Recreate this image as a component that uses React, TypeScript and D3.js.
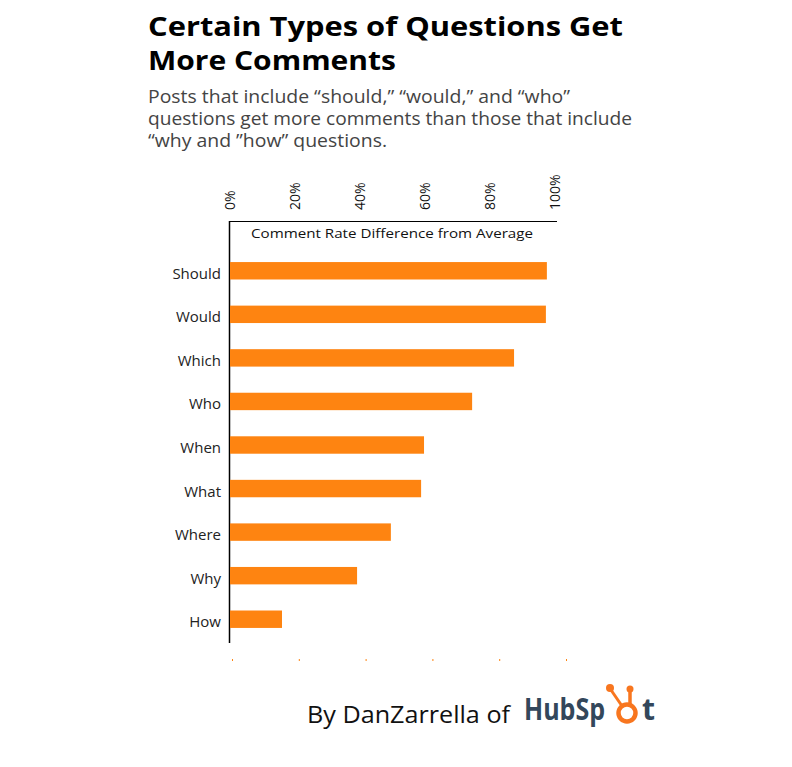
import React from "react";
import * as d3 from "d3";

const categories = ["Should", "Would", "Which", "Who", "When", "What", "Where", "Why", "How"];
const values = [97.5, 97.2, 87.4, 74.5, 59.7, 58.8, 49.5, 39.1, 16.0];
const tickValues = [0, 20, 40, 60, 80, 100];
const titleLines = ["Certain Types of Questions Get", "More Comments"];
const titleWidths = [475, 248];
const subtitleLines = [
  "Posts that include \u201cshould,\u201d \u201cwould,\u201d and \u201cwho\u201d",
  "questions get more comments than those that include",
  "\u201cwhy and \u201dhow\u201d questions.",
];
const subtitleWidths = [422, 484, 239];
const axisTitle = "Comment Rate Difference from Average";

export default function App() {
  const W = 792, H = 767;
  const x = d3.scaleLinear().domain([0, 100]).range([230, 555]);
  const y = d3.scaleBand().domain(categories).range([249, 641]).paddingInner(0.6).paddingOuter(0.3);
  const dotX = d3.scaleLinear().domain([0, 100]).range([232, 566]);
  const font = "'Open Sans', 'DejaVu Sans', sans-serif";
  return (
    <svg width={W} height={H} style={{ position: "absolute", left: 0, top: 0, background: "#fff" }} fontFamily={font}>
      {titleLines.map((t, i) => (
        <text key={t} x={148} y={36 + i * 34} fontSize={27} fontWeight={700} fill="#000"
          textLength={titleWidths[i]} lengthAdjust="spacingAndGlyphs">{t}</text>
      ))}
      {subtitleLines.map((t, i) => (
        <text key={t} x={148} y={103 + i * 22} fontSize={18} fill="#444"
          textLength={subtitleWidths[i]} lengthAdjust="spacingAndGlyphs">{t}</text>
      ))}
      {tickValues.map((v) => (
        <text key={v} transform={`translate(${x(v) + 5},210) rotate(-90)`} fontSize={14} fill="#111">{v}%</text>
      ))}
      <line x1={229.5} x2={557} y1={221.5} y2={221.5} stroke="#000" strokeWidth={1} />
      <line x1={229.5} x2={229.5} y1={221} y2={643} stroke="#000" strokeWidth={1.5} />
      <text x={392} y={238} textAnchor="middle" fontSize={13} fill="#111"
        textLength={282} lengthAdjust="spacingAndGlyphs">{axisTitle}</text>
      {categories.map((c, i) => (
        <g key={c}>
          <rect x={x(0)} y={y(c)!} width={x(values[i]) - x(0)} height={y.bandwidth()} fill="#fe8411" />
          <text x={221} y={y(c)! + y.bandwidth() / 2 + 8} textAnchor="end" fontSize={15} fill="#222">{c}</text>
        </g>
      ))}
      {tickValues.map((v) => (
        <rect key={"d" + v} x={dotX(v)} y={659} width={1} height={2} fill="#fe8411" />
      ))}
      <text x={307} y={723} fontSize={23} fill="#111" textLength={203} lengthAdjust="spacingAndGlyphs">By DanZarrella of</text>
      <text x={524} y={720} fontSize={30} fontWeight={700} fill="#33475b" textLength={81} lengthAdjust="spacingAndGlyphs">HubSp</text>
      <g stroke="#f8761f" fill="#f8761f">
        <line x1={630} y1={705} x2={630} y2={690} strokeWidth={3.5} />
        <line x1={622} y1={706} x2={611} y2={690} strokeWidth={3} />
        <circle cx={630} cy={689} r={3.5} stroke="none" />
        <circle cx={610} cy={688} r={4} stroke="none" />
        <circle cx={627} cy={713} r={8.5} fill="#fff" strokeWidth={4.5} />
      </g>
      <text x={642} y={720} fontSize={30} fontWeight={700} fill="#33475b">t</text>
    </svg>
  );
}
